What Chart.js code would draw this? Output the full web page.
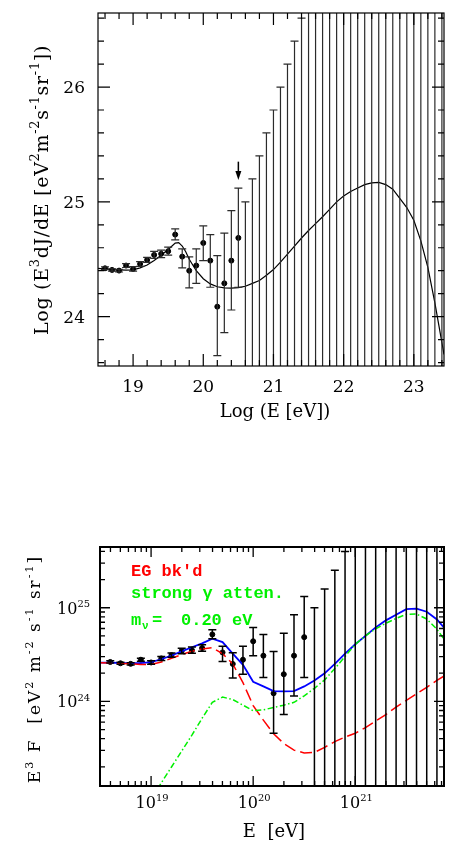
<!DOCTYPE html>
<html lang="en">
<head>
<meta charset="UTF-8">
<title>UHECR spectrum</title>
<script src="https://cdn.jsdelivr.net/npm/chart.js"></script>
<style>
  body { margin: 0; background: #fff; }
  canvas { position: absolute; left: 0; }
  #topChart { top: 0; }
  #bottomChart { top: 440px; }
</style>
</head>
<body>
<canvas id="topChart" width="449" height="440"></canvas>
<canvas id="bottomChart" width="449" height="402"></canvas>
<script>
// measured spectrum: log10(E/eV) and log10 of E^3 dJ/dE, with error bar ends
var logE = [18.6, 18.7, 18.8, 18.9, 19.0, 19.1, 19.2, 19.3, 19.4, 19.5,
            19.6, 19.7, 19.8, 19.9, 20.0, 20.1, 20.2, 20.3, 20.4, 20.5];
var logFlux = [24.421, 24.407, 24.401, 24.445, 24.416, 24.459, 24.494, 24.538, 24.547, 24.570,
               24.715, 24.523, 24.400, 24.445, 24.642, 24.488, 24.087, 24.290, 24.488, 24.686];
var logFluxHi = [24.433, 24.417, 24.413, 24.462, 24.435, 24.480, 24.516, 24.568, 24.580, 24.605,
                 24.765, 24.590, 24.520, 24.590, 24.790, 24.715, 24.532, 24.727, 24.924, 25.120];
var logFluxLo = [24.409, 24.397, 24.389, 24.428, 24.397, 24.438, 24.472, 24.508, 24.514, 24.535,
                 24.669, 24.425, 24.250, 24.290, 24.488, 24.256, 23.660, 23.860, 24.058, 24.256];

// empty bins: only the upper bound is known (27 = off the top of the frame)
var limitE = [20.6, 20.7, 20.8, 20.9, 21.0, 21.1, 21.2, 21.3, 21.4, 21.5,
              21.6, 21.7, 21.8, 21.9, 22.0, 22.1, 22.2, 22.3, 22.4, 22.5,
              22.6, 22.7, 22.8, 22.9, 23.0, 23.1, 23.2, 23.3, 23.4];
var limitHi = [25.0, 25.2, 25.4, 25.6, 25.8, 26.0, 26.2, 26.4, 26.6, 27,
               27, 27, 27, 27, 27, 27, 27, 27, 27, 27,
               27, 27, 27, 27, 27, 27, 27, 27, 27];
var limitLo = 22;

// down arrow above the 20.5 bin (top panel)
var arrowE = 20.5, arrowFrom = 25.35, arrowTo = 25.19;

// model curve, top panel (log-log)
var topModelE = [18.5, 18.7, 18.9, 19.0, 19.1, 19.2, 19.3, 19.4, 19.5, 19.6,
                 19.65, 19.7, 19.75, 19.8, 19.9, 20.0, 20.1, 20.2, 20.3, 20.4,
                 20.5, 20.6, 20.7, 20.8, 20.9, 21.0, 21.1, 21.2, 21.3, 21.4,
                 21.5, 21.6, 21.7, 21.8, 21.9, 22.0, 22.1, 22.2, 22.3, 22.4,
                 22.5, 22.6, 22.7, 22.8, 22.9, 23.0, 23.1, 23.2, 23.3, 23.43];
var topModelF = [24.420, 24.410, 24.405, 24.407, 24.425, 24.450, 24.490, 24.535, 24.585, 24.640,
                 24.645, 24.615, 24.565, 24.500, 24.400, 24.330, 24.285, 24.260, 24.250, 24.248,
                 24.252, 24.265, 24.290, 24.315, 24.360, 24.410, 24.475, 24.545, 24.615, 24.685,
                 24.750, 24.810, 24.870, 24.935, 25.000, 25.050, 25.090, 25.120, 25.150, 25.165,
                 25.170, 25.150, 25.110, 25.030, 24.950, 24.840, 24.660, 24.430, 24.120, 23.670];

// bottom panel models, log10 values on a 0.1 grid in log10 E
var modelE = [18.5, 18.6, 18.7, 18.8, 18.9, 19.0, 19.1, 19.2, 19.3, 19.4,
              19.5, 19.6, 19.7, 19.8, 19.9, 20.0, 20.1, 20.2, 20.3, 20.4,
              20.5, 20.6, 20.7, 20.8, 20.9, 21.0, 21.1, 21.2, 21.3, 21.4,
              21.5, 21.6, 21.7, 21.8, 21.9];
var totalF = [24.413, 24.415, 24.410, 24.408, 24.408, 24.420, 24.450, 24.490, 24.534, 24.578,
              24.620, 24.670, 24.633, 24.510, 24.390, 24.210, 24.160, 24.110, 24.108, 24.110,
              24.160, 24.224, 24.300, 24.400, 24.510, 24.610, 24.700, 24.790, 24.865, 24.925,
              24.985, 24.990, 24.957, 24.875, 24.750];
var egF = [24.413, 24.410, 24.405, 24.400, 24.395, 24.395, 24.420, 24.460, 24.500, 24.535,
           24.560, 24.573, 24.510, 24.400, 24.200, 23.955, 23.800, 23.655, 23.550, 23.480,
           23.450, 23.455, 23.510, 23.570, 23.620, 23.660, 23.720, 23.790, 23.860, 23.940,
           24.010, 24.080, 24.150, 24.225, 24.290];
var gammaE = [19.0, 19.1, 19.2, 19.3, 19.4, 19.5, 19.6, 19.7, 19.8, 19.9,
              20.0, 20.1, 20.2, 20.3, 20.4, 20.5, 20.6, 20.7, 20.8, 20.9,
              21.0, 21.1, 21.2, 21.3, 21.4, 21.5, 21.6, 21.7, 21.8, 21.9];
var gammaF = [22.950, 23.130, 23.300, 23.470, 23.640, 23.820, 23.990, 24.046, 24.020, 23.960,
              23.900, 23.910, 23.935, 23.960, 23.990, 24.060, 24.140, 24.230, 24.350, 24.480,
              24.610, 24.700, 24.775, 24.835, 24.885, 24.930, 24.932, 24.880, 24.770, 24.620];

// axis ranges and tick labels
var topXRange = [18.5, 23.43], topYRange = [23.57, 26.645];
var topXLabels = [19, 20, 21, 22, 23];
var topYLabels = [24, 25, 26];
var botXRange = [3.16e18, 7.4e21], botYRange = [1.25e23, 4.45e25];
var botXDecades = [19, 20, 21];
var botYDecades = [24, 25];

var legendLines = ["EG bk'd", 'strong \u03b3 atten.', '0.20 eV'];

var SERIF = '"DejaVu Serif", serif';
var MONO = '"Liberation Mono", monospace';
var GREEN = '#00f000';

function pts(xs, ys, f) {
  return xs.map(function (x, i) { return { x: f(x), y: f(ys[i]) }; });
}
function ident(v) { return v; }
function pow10(v) { return Math.pow(10, v); }

// text with super/subscripts: parts = [[text, 0|1|-1], ...]
function richWidth(ctx, parts, size, ratio) {
  var w = 0;
  parts.forEach(function (p) {
    ctx.font = (p[1] ? size * ratio : size) + 'px ' + SERIF;
    w += ctx.measureText(p[0]).width;
  });
  return w;
}
function drawRich(ctx, parts, x, y, size, align, ratio, rise) {
  var w = richWidth(ctx, parts, size, ratio);
  var cx = align === 'center' ? x - w / 2 : (align === 'right' ? x - w : x);
  ctx.textAlign = 'left';
  parts.forEach(function (p) {
    ctx.font = (p[1] ? size * ratio : size) + 'px ' + SERIF;
    var dy = p[1] === 1 ? -size * rise : (p[1] === -1 ? size * 0.3 : 0);
    ctx.fillText(p[0], cx, y + dy);
    cx += ctx.measureText(p[0]).width;
  });
}

function clipArea(ctx, a) {
  ctx.beginPath();
  ctx.rect(a.left, a.top, a.right - a.left, a.bottom - a.top);
  ctx.clip();
}

function drawBars(chart, f, color, width, cap) {
  var ctx = chart.ctx, xs = chart.scales.x, ys = chart.scales.y;
  ctx.save();
  clipArea(ctx, chart.chartArea);
  ctx.strokeStyle = color;
  ctx.lineWidth = width;
  function bar(e, lo, hi, capLo) {
    var px = xs.getPixelForValue(f(e));
    var y1 = ys.getPixelForValue(f(hi)), y2 = ys.getPixelForValue(f(lo));
    ctx.beginPath();
    ctx.moveTo(px, y1); ctx.lineTo(px, y2);
    ctx.moveTo(px - cap, y1); ctx.lineTo(px + cap, y1);
    if (capLo) { ctx.moveTo(px - cap, y2); ctx.lineTo(px + cap, y2); }
    ctx.stroke();
  }
  logE.forEach(function (e, i) { bar(e, logFluxLo[i], logFluxHi[i], true); });
  limitE.forEach(function (e, i) { bar(e, limitLo, limitHi[i], false); });
  ctx.restore();
}

function drawTicks(ctx, a, xs, ys, xVals, yVals, major, minor, isMajor) {
  ctx.beginPath();
  xVals.forEach(function (v) {
    var p = xs.getPixelForValue(v), L = isMajor(v) ? major : minor;
    ctx.moveTo(p, a.bottom); ctx.lineTo(p, a.bottom - L);
    ctx.moveTo(p, a.top); ctx.lineTo(p, a.top + L);
  });
  yVals.forEach(function (v) {
    var p = ys.getPixelForValue(v), L = isMajor(v) ? major : minor;
    ctx.moveTo(a.left, p); ctx.lineTo(a.left + L, p);
    ctx.moveTo(a.right, p); ctx.lineTo(a.right - L, p);
  });
  ctx.stroke();
}

var topDecor = {
  id: 'topDecor',
  afterDatasetsDraw: function (chart) {
    drawBars(chart, ident, '#2b2b2b', 1.2, 4);
    var ctx = chart.ctx, xs = chart.scales.x, ys = chart.scales.y;
    var px = xs.getPixelForValue(arrowE);
    var y0 = ys.getPixelForValue(arrowFrom), y1 = ys.getPixelForValue(arrowTo);
    ctx.save();
    ctx.strokeStyle = '#000'; ctx.fillStyle = '#000'; ctx.lineWidth = 1.5;
    ctx.beginPath(); ctx.moveTo(px, y0); ctx.lineTo(px, y1 - 6); ctx.stroke();
    ctx.beginPath(); ctx.moveTo(px - 3, y1 - 9); ctx.lineTo(px + 3, y1 - 9); ctx.lineTo(px, y1); ctx.closePath(); ctx.fill();
    ctx.restore();
  },
  afterDraw: function (chart) {
    var ctx = chart.ctx, a = chart.chartArea, xs = chart.scales.x, ys = chart.scales.y;
    ctx.save();
    ctx.strokeStyle = '#000'; ctx.lineWidth = 1.2;
    ctx.strokeRect(a.left, a.top, a.right - a.left, a.bottom - a.top);
    var xv = [], yv = [], i;
    for (i = 93; i <= 117; i++) xv.push(i / 5);
    for (i = 118; i <= 133; i++) yv.push(i / 5);
    drawTicks(ctx, a, xs, ys, xv, yv, 12, 6, function (v) { return Math.abs(v - Math.round(v)) < 1e-6; });

    ctx.fillStyle = '#000';
    ctx.font = '17px ' + SERIF;
    ctx.textAlign = 'center';
    topXLabels.forEach(function (v) { ctx.fillText(String(v), xs.getPixelForValue(v), 392); });
    ctx.textAlign = 'right';
    topYLabels.forEach(function (v) { ctx.fillText(String(v), 85, ys.getPixelForValue(v) + 6); });
    ctx.textAlign = 'center';
    ctx.font = '18px ' + SERIF;
    ctx.fillText('Log (E [eV])', 275, 417);

    ctx.translate(48, 190);
    ctx.rotate(-Math.PI / 2);
    ctx.letterSpacing = '0.7px';
    drawRich(ctx, [['Log (E', 0], ['3', 1], ['dJ/dE [eV', 0], ['2', 1], ['m', 0], ['-2', 1],
                   ['s', 0], ['-1', 1], ['sr', 0], ['-1', 1], ['])', 0]], 0, 0, 19, 'center', 0.68, 0.45);
    ctx.restore();
  }
};

var botDecor = {
  id: 'botDecor',
  afterDatasetsDraw: function (chart) {
    drawBars(chart, pow10, '#000', 1.5, 4);
  },
  afterDraw: function (chart) {
    var ctx = chart.ctx, a = chart.chartArea, xs = chart.scales.x, ys = chart.scales.y;
    ctx.save();
    ctx.strokeStyle = '#000'; ctx.lineWidth = 2;
    ctx.strokeRect(a.left, a.top, a.right - a.left, a.bottom - a.top);
    ctx.lineWidth = 1.3;
    var xv = [], yv = [], d, m;
    for (d = 18; d <= 21; d++) for (m = 1; m <= 9; m++) {
      var v = m * Math.pow(10, d);
      if (v > botXRange[0] && v < botXRange[1]) xv.push(v);
    }
    for (d = 23; d <= 25; d++) for (m = 1; m <= 9; m++) {
      var w = m * Math.pow(10, d);
      if (w > botYRange[0] && w < botYRange[1]) yv.push(w);
    }
    drawTicks(ctx, a, xs, ys, xv, yv, 10, 5, function (v) {
      var l = Math.log10(v); return Math.abs(l - Math.round(l)) < 1e-6;
    });

    ctx.fillStyle = '#000';
    botXDecades.forEach(function (d) {
      drawRich(ctx, [['10', 0], [String(d), 1]], xs.getPixelForValue(Math.pow(10, d)) + 1, 368, 16, 'center', 0.62, 0.42);
    });
    botYDecades.forEach(function (d) {
      drawRich(ctx, [['10', 0], [String(d), 1]], 90, ys.getPixelForValue(Math.pow(10, d)) + 6, 16, 'right', 0.62, 0.42);
    });
    ctx.font = '18px ' + SERIF;
    ctx.textAlign = 'center';
    ctx.fillText('E  [eV]', 274, 397);

    // legend text
    ctx.textAlign = 'left';
    ctx.font = 'bold 17px ' + MONO;
    ctx.fillStyle = '#ff0000';
    ctx.fillText(legendLines[0], 131, 136);
    ctx.fillStyle = GREEN;
    ctx.fillText(legendLines[1], 131, 158);
    ctx.fillText('m', 131, 185);
    ctx.font = 'bold 11px ' + MONO;
    ctx.fillText('\u03bd', 142, 189);
    ctx.font = 'bold 17px ' + MONO;
    ctx.fillText('=', 152, 185);
    ctx.fillText(legendLines[2], 181, 185);

    ctx.fillStyle = '#000';
    ctx.translate(40, 229);
    ctx.rotate(-Math.PI / 2);
    ctx.letterSpacing = '2px';
    drawRich(ctx, [['E', 0], ['3', 1], [' F  [eV', 0], ['2', 1], [' m', 0], ['-2', 1],
                   [' s', 0], ['-1', 1], [' sr', 0], ['-1', 1], [']', 0]], 0, 0, 17, 'center', 0.65, 0.42);
    ctx.restore();
  }
};

Chart.defaults.font.family = SERIF;

new Chart(document.getElementById('topChart'), {
  type: 'scatter',
  data: {
    datasets: [{
      data: pts(topModelE, topModelF, ident),
      showLine: true, borderColor: '#000', borderWidth: 1.2, pointRadius: 0
    }, {
      data: pts(logE, logFlux, ident),
      pointRadius: 2.5, pointBackgroundColor: '#000', pointBorderColor: '#000'
    }]
  },
  options: {
    responsive: false, animation: false,
    layout: { padding: { left: 98, top: 13, right: 2, bottom: 74 } },
    plugins: { legend: { display: false }, tooltip: { enabled: false } },
    scales: {
      x: { type: 'linear', display: false, min: topXRange[0], max: topXRange[1] },
      y: { type: 'linear', display: false, min: topYRange[0], max: topYRange[1] }
    }
  },
  plugins: [topDecor]
});

new Chart(document.getElementById('bottomChart'), {
  type: 'scatter',
  data: {
    datasets: [{
      data: pts(gammaE, gammaF, pow10),
      showLine: true, borderColor: GREEN, borderWidth: 1.5, borderDash: [6, 2.5, 1.5, 2.5], pointRadius: 0
    }, {
      data: pts(modelE, egF, pow10),
      showLine: true, borderColor: '#ff0000', borderWidth: 1.5, borderDash: [12, 5], pointRadius: 0
    }, {
      data: pts(modelE, totalF, pow10),
      showLine: true, borderColor: '#0000ff', borderWidth: 1.8, pointRadius: 0
    }, {
      data: pts(logE, logFlux, pow10),
      pointRadius: 2.5, pointBackgroundColor: '#000', pointBorderColor: '#000'
    }]
  },
  options: {
    responsive: false, animation: false,
    layout: { padding: { left: 100, top: 107, right: 1, bottom: 56 } },
    plugins: { legend: { display: false }, tooltip: { enabled: false } },
    scales: {
      x: { type: 'logarithmic', display: false, min: botXRange[0], max: botXRange[1] },
      y: { type: 'logarithmic', display: false, min: botYRange[0], max: botYRange[1] }
    }
  },
  plugins: [botDecor]
});
</script>
</body>
</html>
